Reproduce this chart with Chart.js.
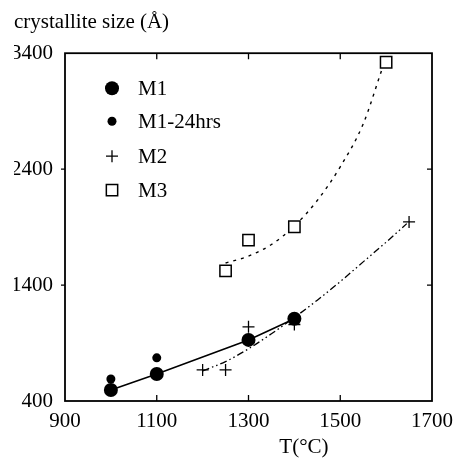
<!DOCTYPE html>
<html>
<head>
<meta charset="utf-8">
<script src="https://cdn.jsdelivr.net/npm/chart.js@4.4.0/dist/chart.umd.min.js"></script>
<style>
  html, body { margin: 0; padding: 0; background: #fff; }
</style>
</head>
<body>
<canvas id="crystallite" width="456" height="461"></canvas>
<script>
// measured points
const m1Temp = [1000, 1100, 1300, 1400];
const m1Size = [495, 633, 927, 1109];
const m1DayTemp = [1000, 1100];
const m1DaySize = [590, 772];
const m2Temp = [1200, 1250, 1300, 1400, 1650];
const m2Size = [668, 668, 1040, 1060, 1945];
const m3Temp = [1250, 1300, 1400, 1600];
const m3Size = [1523, 1788, 1903, 3322];

// fitted curves
const m2FitTemp = [1200, 1250, 1300, 1350, 1400, 1450, 1500, 1550, 1600, 1645];
const m2FitSize = [660, 740, 850, 980, 1120, 1270, 1430, 1600, 1770, 1930];
const m3FitTemp = [1250, 1300, 1350, 1400, 1450, 1500, 1550, 1590];
const m3FitSize = [1590, 1650, 1750, 1910, 2130, 2420, 2790, 3250];

const xTicks = [900, 1100, 1300, 1500, 1700];
const yTicks = [400, 1400, 2400, 3400];

const SERIF = "'Liberation Serif', 'Times New Roman', serif";
Chart.defaults.font.family = SERIF;
Chart.defaults.color = "#000";

const pts = (xs, ys) => xs.map((x, i) => ({ x: x, y: ys[i] }));

// frame, inward ticks, x title and the in-plot legend
const decor = {
  id: "decor",
  afterDatasetsDraw(chart) {
    const { ctx, chartArea: a, scales } = chart;
    ctx.save();
    ctx.strokeStyle = "#000";
    ctx.lineWidth = 1.8;
    ctx.strokeRect(a.left, a.top, a.right - a.left, a.bottom - a.top);
    ctx.lineWidth = 1.3;
    ctx.beginPath();
    xTicks.slice(1, -1).forEach((v) => {
      const px = scales.x.getPixelForValue(v);
      ctx.moveTo(px, a.bottom); ctx.lineTo(px, a.bottom - 6);
      ctx.moveTo(px, a.top); ctx.lineTo(px, a.top + 6);
    });
    yTicks.slice(1, -1).forEach((v) => {
      const py = scales.y.getPixelForValue(v);
      ctx.moveTo(a.left - 4, py); ctx.lineTo(a.left, py);
      ctx.moveTo(a.right, py); ctx.lineTo(a.right - 5, py);
    });
    ctx.stroke();

    // x axis title sits right of centre in the original
    ctx.fillStyle = "#000";
    ctx.font = "21px " + SERIF;
    ctx.textAlign = "center";
    ctx.textBaseline = "middle";
    ctx.fillText("T(°C)", a.left + 0.651 * (a.right - a.left), 447);

    // legend
    const rows = [a.top + 35, a.top + 68, a.top + 103, a.top + 137];
    ctx.textAlign = "left";
    chart.data.datasets.slice(0, 4).forEach((ds, i) => {
      const x = a.left + 47, y = rows[i];
      ctx.fillStyle = ds.pointBackgroundColor;
      ctx.strokeStyle = "#000";
      ctx.lineWidth = ds.pointBorderWidth;
      Chart.helpers.drawPoint(ctx, {
        pointStyle: ds.pointStyle, radius: ds.pointRadius,
        borderWidth: ds.pointBorderWidth, rotation: 0
      }, x, y);
      ctx.fillStyle = "#000";
      ctx.fillText(ds.label, a.left + 73, y + 1);
    });
    ctx.restore();
  }
};

new Chart(document.getElementById("crystallite"), {
  type: "scatter",
  data: {
    datasets: [
      {
        label: "M1", data: pts(m1Temp, m1Size),
        pointStyle: "circle", pointRadius: 7, pointBorderWidth: 0,
        pointBackgroundColor: "#000", borderColor: "#000",
        showLine: true, borderWidth: 1.6, tension: 0
      },
      {
        label: "M1-24hrs", data: pts(m1DayTemp, m1DaySize),
        pointStyle: "circle", pointRadius: 4.5, pointBorderWidth: 0,
        pointBackgroundColor: "#000", borderColor: "#000"
      },
      {
        label: "M2", data: pts(m2Temp, m2Size),
        pointStyle: "cross", pointRadius: 6, pointBorderWidth: 1.3,
        pointBackgroundColor: "#000", pointBorderColor: "#000", borderColor: "#000"
      },
      {
        label: "M3", data: pts(m3Temp, m3Size),
        pointStyle: "rect", pointRadius: 8, pointBorderWidth: 1.5,
        pointBackgroundColor: "#fff", pointBorderColor: "#000", borderColor: "#000"
      },
      {
        label: "M2 fit", data: pts(m2FitTemp, m2FitSize),
        showLine: true, pointRadius: 0, borderColor: "#000", borderWidth: 1.3,
        borderDash: [7, 3, 1.5, 3, 1.5, 3], cubicInterpolationMode: "monotone"
      },
      {
        label: "M3 fit", data: pts(m3FitTemp, m3FitSize),
        showLine: true, pointRadius: 0, borderColor: "#000", borderWidth: 1.4,
        borderDash: [3, 5], cubicInterpolationMode: "monotone"
      }
    ]
  },
  options: {
    responsive: false,
    animation: false,
    layout: { padding: { left: 14, right: 24, top: 0, bottom: 0 } },
    plugins: {
      legend: { display: false },
      tooltip: { enabled: false },
      title: {
        display: true,
        text: "crystallite size (Å)",
        align: "start",
        color: "#000",
        font: { size: 21, weight: "normal" },
        padding: { top: 10, bottom: 18 }
      }
    },
    scales: {
      x: {
        type: "linear", position: "bottom", min: 900, max: 1700,
        afterBuildTicks: (s) => { s.ticks = xTicks.map((v) => ({ value: v })); },
        afterFit: (s) => { s.height = 60; s.paddingLeft = 0; s.paddingRight = 0; },
        ticks: {
          font: { size: 21 }, padding: 8, maxRotation: 0, autoSkip: false, color: "#000",
          callback: (v) => String(v)
        },
        grid: { display: false, drawTicks: false },
        border: { display: false }
      },
      y: {
        type: "linear", min: 400, max: 3400,
        afterBuildTicks: (s) => { s.ticks = yTicks.map((v) => ({ value: v })); },
        afterFit: (s) => { s.width = 51; },
        ticks: {
          font: { size: 21 }, padding: 12, autoSkip: false, color: "#000",
          callback: (v) => String(v)
        },
        grid: { display: false, drawTicks: false },
        border: { display: false }
      }
    }
  },
  plugins: [decor]
});
</script>
</body>
</html>
